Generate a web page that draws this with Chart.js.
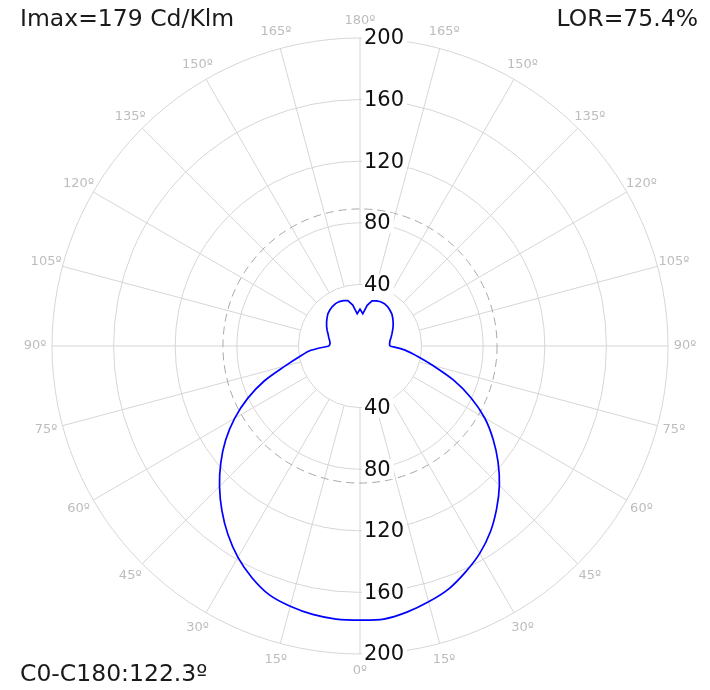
<!DOCTYPE html>
<html>
<head>
<meta charset="utf-8">
<script src="https://cdn.jsdelivr.net/npm/chart.js@4.4.0/dist/chart.umd.min.js"></script>
<style>
  html, body { margin: 0; padding: 0; background: #fff; }
  #wrap { position: relative; width: 710px; height: 690px; }
</style>
</head>
<body>
<div id="wrap"><canvas id="polar"></canvas></div>
<script>
// Gamma angles (deg from nadir) and intensities in cd/klm
const gammaAngles = [0, 5, 10, 15, 20, 25, 30, 35, 40, 45, 50, 55, 60, 65, 70, 75, 80, 85, 90,
                     95, 100, 105, 110, 115, 120, 125, 130, 135, 140, 145, 150, 155, 160, 165, 170, 175, 180];
const c0Intensity = [178, 178, 177, 175, 172, 166, 158.5, 149.5, 139.5, 129, 118, 106.5, 94, 80.5, 66, 50.5, 40, 32, 20,
                     19.5, 20, 21, 22, 23.5, 25, 26.5, 28, 29.5, 30.5, 31.3, 31.8, 31.8, 31.3, 30.5, 27, 21, 24];
const c180Intensity = [178, 178, 175.5, 172, 168, 162, 155.5, 147.5, 138, 128, 117, 105.5, 93.5, 79.5, 64.5, 49, 37.5, 29, 19.3,
                       19.3, 19.8, 20.8, 22, 23.3, 24.8, 26.3, 27.8, 29.3, 30.3, 31.2, 31.7, 31.7, 31.2, 30.3, 26.8, 21, 24];
const ringTicks = [40, 80, 120, 160, 200];
const angleTicks = [0, 15, 30, 45, 60, 75, 90, 105, 120, 135, 150, 165, 180];
const meanRing = 89;
const imaxText = 'Imax=179 Cd/Klm';
const lorText = 'LOR=75.4%';
const planeText = 'C0-C180:122.3º';

// radar runs clockwise from the top: right half is C180 going down, left half is C0 going up
const step = 5;
const labels = [];
const lowerPart = [];   // downward lobe, gamma 0..90 (smoothed)
const upperPart = [];   // upward lobes, gamma 90..180 (kept sharp)
for (let phi = 0; phi < 360; phi += step) {
    const g = phi <= 180 ? 180 - phi : phi - 180;
    const src = phi <= 180 ? c180Intensity : c0Intensity;
    const v = src[gammaAngles.indexOf(g)];
    labels.push(g);
    lowerPart.push(g <= 90 ? v : null);
    upperPart.push(g >= 90 ? v : null);
}

const polarDecor = {
    id: 'polarDecor',
    beforeDatasetsDraw(chart) {
        const r = chart.scales.r;
        const ctx = chart.ctx;
        ctx.save();
        ctx.strokeStyle = '#d6d6d6';
        ctx.lineWidth = 1;
        const every = 15 / step;
        for (let i = 0; i < labels.length; i += every) {
            const a = r.getPointPositionForValue(i, ringTicks[0]);
            const b = r.getPointPositionForValue(i, r.max);
            ctx.beginPath();
            ctx.moveTo(a.x, a.y);
            ctx.lineTo(b.x, b.y);
            ctx.stroke();
        }
        ctx.strokeStyle = '#a8a8a8';
        ctx.setLineDash([8, 5]);
        ctx.beginPath();
        ctx.arc(r.xCenter, r.yCenter, r.getDistanceFromCenterForValue(meanRing), 0, Math.PI * 2);
        ctx.stroke();
        ctx.restore();
    },
    afterDatasetsDraw(chart) {
        const r = chart.scales.r;
        const ctx = chart.ctx;
        ctx.save();

        // ring values, above and below the centre
        ctx.font = '21px "DejaVu Sans", Verdana, sans-serif';
        ctx.textAlign = 'left';
        ctx.textBaseline = 'middle';
        ringTicks.forEach(v => {
            const d = r.getDistanceFromCenterForValue(v);
            const txt = String(v);
            const w = ctx.measureText(txt).width;
            [r.yCenter - d, r.yCenter + d].forEach(y => {
                ctx.fillStyle = '#fff';
                ctx.fillRect(r.xCenter + 2, y - 10, w + 5, 20);
                ctx.fillStyle = '#111';
                ctx.fillText(txt, r.xCenter + 4, y + 1);
            });
        });

        // gamma labels around the outside, both halves
        ctx.font = '13px "DejaVu Sans", Verdana, sans-serif';
        ctx.textAlign = 'center';
        ctx.fillStyle = '#bdbdbd';
        const n = labels.length;
        angleTicks.forEach(g => {
            const idx = new Set([(180 - g) / step, ((180 + g) / step) % n]);
            idx.forEach(i => {
                const p = r.getPointPosition(i, r.drawingArea + 17);
                ctx.fillText(g + 'º', p.x, p.y);
            });
        });

        // header and footer texts
        ctx.font = '23.5px "DejaVu Sans", Verdana, sans-serif';
        ctx.fillStyle = '#1a1a1a';
        ctx.textAlign = 'left';
        ctx.fillText(imaxText, 20, 20);
        ctx.fillText(planeText, 20, 675);
        ctx.textAlign = 'right';
        ctx.fillText(lorText, 698, 20);
        ctx.restore();
    }
};

const lineStyle = {
    borderColor: '#0000ff',
    borderWidth: 1.7,
    fill: false,
    pointRadius: 0,
    spanGaps: false
};

new Chart(document.getElementById('polar'), {
    type: 'radar',
    data: {
        labels: labels,
        datasets: [
            Object.assign({ data: lowerPart, tension: 0.3 }, lineStyle),
            Object.assign({ data: upperPart, tension: 0 }, lineStyle)
        ]
    },
    options: {
        responsive: true,
        maintainAspectRatio: false,
        animation: false,
        layout: { padding: { left: 52, right: 42, top: 38, bottom: 36 } },
        plugins: { legend: { display: false }, tooltip: { enabled: false } },
        scales: {
            r: {
                min: 0,
                max: 200,
                startAngle: 0,
                ticks: { stepSize: 40, display: false },
                grid: { circular: true, color: '#d6d6d6', lineWidth: 1 },
                angleLines: { display: false },
                pointLabels: { display: false }
            }
        }
    },
    plugins: [polarDecor]
});
</script>
</body>
</html>
